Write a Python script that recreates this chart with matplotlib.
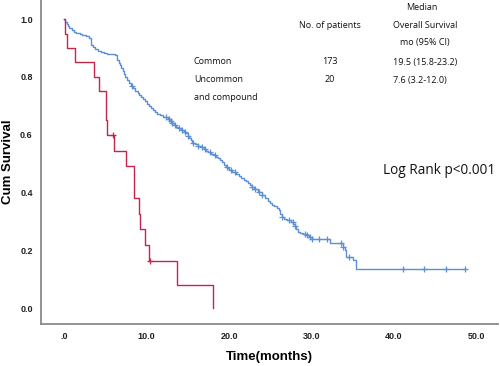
import matplotlib
matplotlib.use('Agg')
import matplotlib.pyplot as plt
import numpy as np

# Uncommon and compound (n=20): step times and survival levels
red_t = [0, 0.12, 0.4, 1.33, 3.67, 4.2, 5.1, 5.15, 6.0, 7.5, 8.45, 8.5,
         9.13, 9.25, 9.8, 10.3, 13.7, 18.0]
red_s = [1.0, 0.95, 0.90, 0.85, 0.80, 0.75, 0.65, 0.60, 0.545, 0.491, 0.436, 0.382,
         0.327, 0.273, 0.218, 0.164, 0.082, 0.0]
red_cens = [5.9, 10.4]

# Common (n=173), rows of ten
blue_t = [0, 0.15, 0.3, 0.45, 0.6, 0.9, 1.2, 1.5, 1.9, 2.2,
          2.6, 3.0, 3.3, 3.55, 3.8, 4.1, 4.5, 4.8, 5.2, 6.2,
          6.4, 6.6, 6.8, 6.95, 7.1, 7.25, 7.4, 7.65, 7.9, 8.15,
          8.4, 8.65, 8.9, 9.1, 9.3, 9.55, 9.8, 10.05, 10.3, 10.55,
          10.8, 11.05, 11.3, 11.65, 12.0, 12.6, 12.85, 13.1, 13.35, 13.6,
          13.9, 14.2, 14.5, 14.8, 15.0, 15.2, 15.35, 15.5, 15.85, 16.2,
          16.55, 16.9, 17.2, 17.5, 17.85, 18.2, 18.45, 18.7, 18.95, 19.2,
          19.4, 19.6, 19.8, 20.0, 20.4, 20.8, 21.15, 21.5, 21.75, 22.0,
          22.25, 22.5, 22.75, 23.0, 23.5, 24.0, 24.4, 24.7, 25.0, 25.25,
          25.5, 25.75, 26.0, 26.2, 26.4, 26.7, 27.0, 27.5, 27.75, 28.0,
          28.15, 28.3, 28.65, 29.0, 29.4, 29.7, 30.0, 32.2, 33.8, 34.0,
          34.2, 35.0, 35.4, 48.6]
blue_s = [1.0, 0.99, 0.983, 0.976, 0.97, 0.962, 0.956, 0.952, 0.948, 0.944,
          0.94, 0.933, 0.91, 0.903, 0.897, 0.89, 0.885, 0.881, 0.878, 0.876,
          0.858, 0.849, 0.84, 0.83, 0.82, 0.81, 0.80, 0.79, 0.78, 0.77,
          0.76, 0.752, 0.745, 0.737, 0.73, 0.722, 0.715, 0.707, 0.70, 0.692,
          0.685, 0.678, 0.672, 0.667, 0.662, 0.655, 0.647, 0.64, 0.634, 0.628,
          0.623, 0.618, 0.611, 0.605, 0.597, 0.59, 0.581, 0.572, 0.567, 0.562,
          0.556, 0.55, 0.545, 0.54, 0.535, 0.53, 0.524, 0.518, 0.511, 0.505,
          0.497, 0.49, 0.484, 0.478, 0.471, 0.465, 0.457, 0.45, 0.445, 0.44,
          0.432, 0.425, 0.418, 0.412, 0.403, 0.39, 0.38, 0.372, 0.365, 0.358,
          0.352, 0.346, 0.34, 0.327, 0.315, 0.31, 0.305, 0.298, 0.291, 0.285,
          0.275, 0.265, 0.261, 0.257, 0.253, 0.245, 0.238, 0.225, 0.212, 0.20,
          0.178, 0.167, 0.136, 0.136]
blue_cens = [8.2, 12.4, 12.7, 12.9, 13.1, 13.5, 13.9, 14.3, 14.7, 15.0, 15.6, 16.2,
             16.7, 17.1, 17.7, 18.3, 19.7, 20.2, 20.7, 22.8, 23.2, 23.6, 24.0,
             26.4, 27.3, 27.7, 28.0, 29.2, 29.5, 29.8, 30.1, 30.9, 31.9, 33.6,
             33.8, 34.5, 41.1, 43.6, 46.3, 48.6]

xticks = [0, 10, 20, 30, 40, 50]
xticklabels = ['.0', '10.0', '20.0', '30.0', '40.0', '50.0']
yticks = [0.0, 0.2, 0.4, 0.6, 0.8, 1.0]

BLUE = '#5b8fd6'
RED = '#c3264d'


def level_at(ts, ss, x):
    i = np.searchsorted(ts, x, side='right') - 1
    return np.asarray(ss)[i]


fig = plt.figure(figsize=(5, 3.66), dpi=100)
ax = fig.add_axes([0.082, 0.116, 0.914, 0.884])

ax.step(blue_t, blue_s, where='post', color=BLUE, lw=1.0)
ax.step(red_t, red_s, where='post', color=RED, lw=1.0)
ax.plot(blue_cens, level_at(blue_t, blue_s, blue_cens), ls='none', marker='+',
        ms=5, mew=0.9, color=BLUE)
ax.plot(red_cens, level_at(red_t, red_s, red_cens), ls='none', marker='+',
        ms=5, mew=0.9, color=RED)

ax.set_xlim(-2.8, 52.6)
ax.set_ylim(-0.053, 1.066)
ax.set_xticks(xticks)
ax.set_xticklabels(xticklabels)
ax.set_yticks(yticks)
ax.set_yticklabels(['%.1f' % v for v in yticks])
ax.tick_params(length=0, pad=6, labelsize=6.5, labelcolor='#222')
for lab in ax.get_xticklabels() + ax.get_yticklabels():
    lab.set_fontfamily('Liberation Sans')
    lab.set_fontweight('bold')

for side in ['top', 'right']:
    ax.spines[side].set_visible(False)
for side in ['left', 'bottom']:
    ax.spines[side].set_color('#8a8a8a')
    ax.spines[side].set_linewidth(1.3)

ax.set_xlabel('Time(months)', fontsize=9.5, fontweight='bold',
              family='Liberation Sans', labelpad=7)
ax.set_ylabel('Cum Survival', fontsize=9.5, fontweight='bold',
              family='Liberation Sans', labelpad=4)


# table-like annotation, positions in pixels from top-left
def txt(x, y, s, ha='center', size=6.5):
    fig.text(x / 500, 1 - y / 366, s, ha=ha, va='center', fontsize=size,
             family='Open Sans', color='#111')


txt(422, 7, 'Median')
txt(330, 25, 'No. of patients')
txt(425, 25, 'Overall Survival')
txt(425, 43, 'mo (95% CI)')
txt(194, 61, 'Common', ha='left')
txt(194, 79, 'Uncommon', ha='left')
txt(194, 98, 'and compound', ha='left')
txt(330, 62, '173')
txt(330, 80, '20')
txt(425, 62, '19.5 (15.8-23.2)')
txt(420, 80, '7.6 (3.2-12.0)')
txt(383, 170, 'Log Rank p<0.001', ha='left', size=9.8)

fig.savefig('out.png', dpi=100)
